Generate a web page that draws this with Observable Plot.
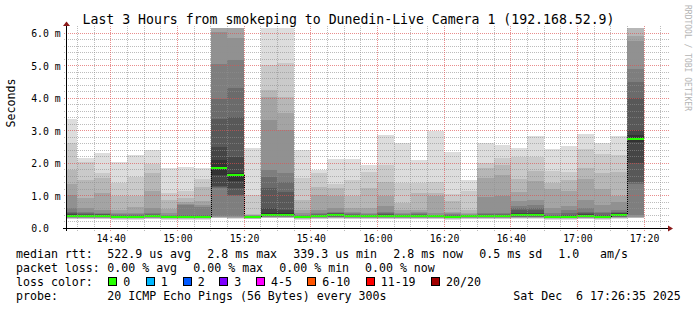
<!DOCTYPE html>
<html><head><meta charset="utf-8">
<script src="https://cdn.jsdelivr.net/npm/d3@7"></script>
<script src="https://cdn.jsdelivr.net/npm/@observablehq/plot@0.6"></script>
<style>
html,body{margin:0;padding:0;background:#fff;}
#chart{position:relative;width:697px;height:310px;overflow:hidden;background:#fff;}
#chart svg{display:block;}
</style></head>
<body><div id="chart"></div>
<script>
// ---------- data ----------
const chartDay = [2025, 11, 6];
const windowStart = "14:26:35";
const windowEnd = "17:26:35";
const firstStepStart = "14:25";
const stepMinutes = 5;

// 20 sorted ping RTTs (ms) per 5-minute step
const pingsMs = [
  [0.27,0.29,0.30,0.31,0.32,0.33,0.34,0.35,0.355,0.36, 0.39,0.42,0.45,0.50,0.62,1.03,1.35,1.77,2.60,3.34],
  [0.27,0.29,0.30,0.31,0.32,0.33,0.34,0.35,0.355,0.36, 0.39,0.40,0.42,0.45,0.50,0.60,0.91,1.48,2.04,2.16],
  [0.27,0.29,0.30,0.31,0.32,0.33,0.34,0.35,0.355,0.36, 0.39,0.40,0.42,0.44,0.47,0.55,1.09,1.53,1.70,2.30],
  [0.26,0.28,0.29,0.30,0.31,0.315,0.32,0.325,0.33,0.335, 0.355,0.37,0.38,0.40,0.43,0.47,0.55,0.97,1.38,2.02],
  [0.26,0.28,0.29,0.30,0.31,0.315,0.32,0.325,0.33,0.34, 0.36,0.37,0.38,0.40,0.42,0.45,0.66,0.97,1.58,2.24],
  [0.27,0.29,0.30,0.31,0.32,0.33,0.34,0.345,0.35,0.36, 0.38,0.39,0.40,0.42,0.45,0.60,1.14,1.70,1.97,2.40],
  [0.26,0.28,0.29,0.30,0.31,0.315,0.32,0.325,0.33,0.34, 0.35,0.36,0.37,0.38,0.40,0.45,0.57,0.86,1.07,1.85],
  [0.26,0.28,0.29,0.30,0.31,0.315,0.32,0.33,0.335,0.34, 0.36,0.37,0.38,0.40,0.70,0.73,0.80,0.93,1.14,1.88],
  [0.26,0.28,0.29,0.30,0.31,0.315,0.32,0.33,0.335,0.34, 0.36,0.37,0.38,0.40,0.66,0.70,0.83,1.27,1.50,1.84],
  [0.30,0.31,0.32,0.33,0.34,0.36,1.23,1.25,1.30,1.63, 2.09,2.50,3.35,3.97,5.05,6.02,6.25,6.35,6.50,6.80],
  [0.29,0.30,0.31,0.32,0.34,0.36,0.98,1.02,1.23,1.45, 1.69,2.19,3.42,4.30,5.17,5.84,6.25,6.35,6.50,6.60],
  [0.27,0.28,0.29,0.30,0.31,0.315,0.32,0.325,0.33,0.34, 0.36,0.365,0.37,0.375,0.38,0.39,0.40,0.42,1.00,2.47],
  [0.30,0.31,0.32,0.33,0.34,0.35,0.36,0.37,0.38,0.40, 0.47,0.60,1.22,1.58,1.78,3.32,4.04,4.25,5.01,6.60],
  [0.30,0.31,0.32,0.33,0.34,0.35,0.36,0.37,0.38,0.40, 0.47,0.55,1.12,1.40,1.69,3.00,3.53,4.04,5.07,6.50],
  [0.26,0.28,0.29,0.30,0.31,0.315,0.32,0.325,0.33,0.34, 0.355,0.36,0.37,0.38,0.40,0.45,0.55,0.86,1.53,2.40],
  [0.27,0.29,0.30,0.31,0.32,0.33,0.34,0.345,0.35,0.36, 0.38,0.39,0.40,0.42,0.45,0.55,1.02,1.27,1.68,1.78],
  [0.28,0.30,0.31,0.32,0.33,0.34,0.35,0.36,0.38,0.40, 0.42,0.44,0.45,0.47,0.50,0.60,0.99,1.24,1.35,2.13],
  [0.27,0.29,0.30,0.31,0.32,0.33,0.34,0.345,0.35,0.36, 0.38,0.39,0.40,0.42,0.45,0.50,0.60,0.99,1.48,2.13],
  [0.27,0.29,0.30,0.31,0.32,0.325,0.33,0.34,0.345,0.35, 0.37,0.38,0.39,0.40,0.42,0.45,0.60,1.22,1.73,1.94],
  [0.27,0.29,0.30,0.31,0.32,0.325,0.33,0.34,0.345,0.35, 0.38,0.40,0.42,0.45,0.50,0.68,0.99,1.40,1.94,2.86],
  [0.27,0.29,0.30,0.31,0.32,0.325,0.33,0.34,0.345,0.35, 0.37,0.38,0.39,0.40,0.42,0.45,0.55,0.77,1.37,2.60],
  [0.27,0.29,0.30,0.31,0.32,0.33,0.34,0.345,0.35,0.36, 0.38,0.39,0.40,0.42,0.45,0.48,0.55,1.08,1.37,2.09],
  [0.27,0.29,0.30,0.31,0.32,0.325,0.33,0.34,0.345,0.35, 0.36,0.37,0.38,0.39,0.40,0.45,0.99,1.08,1.40,2.97],
  [0.26,0.28,0.29,0.30,0.31,0.315,0.32,0.325,0.33,0.34, 0.36,0.37,0.38,0.40,0.42,0.45,0.50,0.82,1.05,2.35],
  [0.27,0.29,0.30,0.31,0.32,0.325,0.33,0.34,0.345,0.35, 0.37,0.38,0.39,0.40,0.41,0.43,0.47,0.55,1.15,1.48],
  [0.27,0.29,0.30,0.31,0.32,0.33,0.34,0.345,0.35,0.36, 0.38,0.39,0.40,0.42,0.45,0.94,1.54,1.86,2.00,2.60],
  [0.27,0.29,0.30,0.31,0.32,0.33,0.34,0.345,0.35,0.36, 0.38,0.39,0.41,0.43,0.47,0.98,1.63,1.94,2.14,2.55],
  [0.28,0.30,0.31,0.32,0.33,0.34,0.35,0.36,0.38,0.40, 0.44,0.47,0.55,0.60,0.68,0.82,1.11,1.51,2.19,2.45],
  [0.28,0.30,0.31,0.32,0.33,0.34,0.35,0.36,0.38,0.40, 0.44,0.47,0.55,0.62,0.70,0.86,1.45,1.76,2.19,2.83],
  [0.26,0.28,0.29,0.30,0.31,0.315,0.32,0.325,0.33,0.34, 0.36,0.37,0.38,0.40,0.45,0.63,1.20,1.39,1.75,2.42],
  [0.26,0.28,0.29,0.30,0.31,0.315,0.32,0.325,0.33,0.34, 0.36,0.38,0.40,0.45,0.55,0.68,1.15,1.48,1.73,2.52],
  [0.27,0.29,0.30,0.31,0.32,0.33,0.34,0.345,0.35,0.36, 0.39,0.42,0.45,0.50,0.63,0.86,1.51,1.83,2.42,2.89],
  [0.26,0.28,0.29,0.30,0.31,0.315,0.32,0.325,0.33,0.34, 0.36,0.38,0.40,0.45,0.50,0.70,1.20,1.68,2.28,2.60],
  [0.28,0.30,0.31,0.32,0.33,0.34,0.35,0.36,0.38,0.42, 0.44,0.45,0.47,0.50,0.55,0.80,0.98,1.73,2.25,2.83],
  [0.30,0.31,0.32,0.33,0.35,0.40,1.36,1.40,2.00,2.63, 2.85,3.00,4.00,4.48,4.89,5.75,5.91,6.30,6.50,6.80]
];

// median RTT (ms) per step
const medianMs = [0.375,0.375,0.375,0.345,0.35,0.37,0.345,0.35,0.35,1.86,1.63,0.345,0.42,0.42,0.35,0.37,0.41,0.37,0.37,0.37,0.37,0.37,0.37,0.36,0.37,0.37,0.37,0.41,0.41,0.35,0.35,0.38,0.35,0.42,2.74];

// packet loss (count of 20) per step
const lossCount = [0,0,0,0,0,0,0,0,0,0,0,0,0,0,0,0,0,0,0,0,0,0,0,0,0,0,0,0,0,0,0,0,0,0,0];

const lossLabels = ["0","1","2","3","4-5","6-10","11-19","20/20"];
const lossColors = ["#26ff00","#00b8ff","#0059ff","#7e00ff","#ff00ff","#ff5500","#ff0000","#a10000"];
const lossUpper = [0,1,2,3,5,10,19,20];

const xTickLabels = ["14:40","15:00","15:20","15:40","16:00","16:20","16:40","17:00","17:20"];
const yTickValues = [0,1,2,3,4,5,6];
const yTickLabels = ["0.0","1.0 m","2.0 m","3.0 m","4.0 m","5.0 m","6.0 m"];
const yMax = 6.15;

const titleText = "Last 3 Hours from smokeping to Dunedin-Live Camera 1 (192.168.52.9)";
const yLabelText = "Seconds";
const watermarkText = "RRDTOOL / TOBI OETIKER";
const rowMedian = ["median rtt:","522.9 us avg","2.8 ms max","339.3 us min","2.8 ms now","0.5 ms sd","1.0","am/s"];
const rowLoss = ["packet loss:","0.00 % avg","0.00 % max","0.00 % min","0.00 % now"];
const rowColorLabel = "loss color:";
const rowProbe = ["probe:","20 ICMP Echo Pings (56 Bytes) every 300s"];
const dateText = "Sat Dec  6 17:26:35 2025";

// ---------- layout ----------
const W = 697, H = 310;
const mL = 66, mR = 31, mT = 28, mB = 82;
const FONT = "'DejaVu Sans Mono', monospace";
const legendFont = 11.6;
const rowMedianX = [16,107.3,207.3,293.3,393.3,479.3,558.3,600];
const rowLossX = [16,107.3,193.3,279.3,365];
const swatchX = [108.3,145.7,182.7,219.3,256,307.3,365.7,431];
const rowY = [258.4, 272.3, 286.2, 300.1];

// ---------- build ----------
function at(hms) {
  const [h, m, s = 0] = hms.split(":").map(Number);
  return new Date(chartDay[0], chartDay[1], chartDay[2], h, m, s);
}
const winStart = at(windowStart), winEnd = at(windowEnd);
const t0 = at(firstStepStart);

const steps = pingsMs.map((p, i) => ({
  start: d3.timeMinute.offset(t0, i * stepMinutes),
  end: d3.timeMinute.offset(t0, (i + 1) * stepMinutes),
  p, median: medianMs[i],
  color: lossColors[lossUpper.findIndex(u => lossCount[i] <= u)]
}));

const smoke = [];
for (const s of steps) {
  const n = s.p.length, half = n / 2;
  for (let k = 1; k <= half; k++) {
    const g = Math.floor(190 / half * (half - k)) + 50;
    smoke.push({start: s.start, end: s.end, lo: s.p[k - 1], hi: s.p[n - k], fill: `rgb(${g},${g},${g})`});
  }
}
const transitions = steps.slice(1).map((s, i) => ({t: s.start, a: steps[i].median, b: s.median}));

const majorTimes = xTickLabels.map(d => at(d));
const minorTimes = d3.timeMinute.every(5).range(winStart, winEnd).filter(t => !majorTimes.some(m => +m === +t));
const minorY = d3.range(1, 31).filter(i => i % 5 !== 0).map(i => i / 5);
const majorY = yTickValues.filter(v => v > 0);

const plot = Plot.plot({
  width: W, height: H,
  marginLeft: mL, marginRight: mR, marginTop: mT, marginBottom: mB,
  x: {type: "time", domain: [winStart, winEnd], axis: null},
  y: {domain: [0, yMax], axis: null},
  color: {type: "identity"},
  style: {background: "#fff", fontFamily: FONT, fontSize: "10px", overflow: "visible", color: "#000"},
  marks: [
    Plot.rect(smoke, {x1: "start", x2: "end", y1: "lo", y2: "hi", fill: "fill", clip: true, shapeRendering: "crispEdges"}),
    Plot.ruleX(transitions, {x: "t", y1: "a", y2: "b", stroke: "#000", strokeDasharray: "1,1", shapeRendering: "crispEdges", ariaLabel: "median-steps"}),
    Plot.ruleY(steps, {y: "median", x1: "start", x2: "end", stroke: "color", strokeWidth: 2, clip: true, shapeRendering: "crispEdges"}),
    Plot.text(xTickLabels, {x: d => at(d), y: 0, text: d => d, dy: 10.3, fontSize: 9.8, lineAnchor: "middle", fill: "#000"}),
    Plot.text(yTickValues, {x: winStart, y: d => d, text: (d, i) => yTickLabels[i], textAnchor: "start", dx: 30.7 - mL, dy: 0.6, fontSize: 9.8, lineAnchor: "middle", fill: "#000"}),
    Plot.text([yLabelText], {frameAnchor: "left", text: d => d, rotate: -90, dx: 11 - mL, dy: -1, fontSize: 11.6, fill: "#000"})
  ]
});
document.getElementById("chart").appendChild(plot);

// grid (pixel-snapped dotted lines via patterns, positioned by the plot's scales)
const X = plot.scale("x"), Y = plot.scale("y");
const svg = d3.select(plot);
const px0 = Math.round(X.apply(winStart)), px1 = Math.round(X.apply(winEnd));
const py0 = Math.round(Y.apply(0)), pyTop = Math.round(Y.apply(yMax));
const ax0 = px0 + 0.5, ay0 = py0 + 0.5;

const defs = svg.append("defs");
const gridStyle = {minor: {color: "#8f8f8f", opacity: 0.6}, major: {color: "#de5050", opacity: 0.65}};
for (const [name, st] of Object.entries(gridStyle)) {
  const pv = defs.append("pattern").attr("id", "v-" + name).attr("patternUnits", "userSpaceOnUse")
    .attr("x", 0).attr("y", 0).attr("width", 1).attr("height", 2);
  pv.append("rect").attr("x", 0).attr("y", 0).attr("width", 1).attr("height", 1)
    .attr("fill", st.color).attr("fill-opacity", st.opacity);
  const ph = defs.append("pattern").attr("id", "h-" + name).attr("patternUnits", "userSpaceOnUse")
    .attr("x", 0).attr("y", 0).attr("width", 2).attr("height", 1);
  ph.append("rect").attr("x", 0).attr("y", 0).attr("width", 1).attr("height", 1)
    .attr("fill", st.color).attr("fill-opacity", st.opacity);
}
const gridG = svg.insert("g", "g[aria-label='median-steps']").attr("shape-rendering", "crispEdges");
function vline(t, name) {
  const x = Math.floor(X.apply(t));
  gridG.append("rect").attr("x", x).attr("y", pyTop - 2).attr("width", 1).attr("height", py0 + 3 - (pyTop - 2))
    .attr("fill", `url(#v-${name})`);
}
function hline(v, name) {
  const y = Math.round(Y.apply(v));
  gridG.append("rect").attr("x", px0 - 2).attr("y", y).attr("width", px1 + 3 - (px0 - 2)).attr("height", 1)
    .attr("fill", `url(#h-${name})`);
}
minorTimes.forEach(t => vline(t, "minor"));
minorY.forEach(v => hline(v, "minor"));
majorTimes.forEach(t => vline(t, "major"));
majorY.forEach(v => hline(v, "major"));

// axes and arrows
const arrowColor = "#8b1a1a";
svg.append("line").attr("x1", px0 - 3).attr("x2", px1 + 3).attr("y1", ay0).attr("y2", ay0).attr("stroke", "#000");
svg.append("line").attr("x1", ax0).attr("x2", ax0).attr("y1", py0 + 3).attr("y2", pyTop - 3).attr("stroke", "#000");
svg.append("path").attr("d", `M${px1 + 2},${ay0 - 3}L${px1 + 7},${ay0}L${px1 + 2},${ay0 + 3}Z`).attr("fill", arrowColor);
svg.append("path").attr("d", `M${ax0 - 3.5},${pyTop - 2}L${ax0},${pyTop - 6.5}L${ax0 + 3.5},${pyTop - 2}Z`).attr("fill", arrowColor);

// title, legend, watermark
const txt = (x, y, s, size, anchor = "start") => svg.append("text")
  .attr("x", x).attr("y", y).attr("font-family", FONT).attr("font-size", size)
  .attr("text-anchor", anchor).attr("fill", "#000").attr("xml:space", "preserve")
  .style("white-space", "pre").text(s);

txt(W / 2, 24, titleText, 13.2, "middle");

rowMedian.forEach((s, i) => txt(rowMedianX[i], rowY[0], s, legendFont));
rowLoss.forEach((s, i) => txt(rowLossX[i], rowY[1], s, legendFont));
txt(16, rowY[2], rowColorLabel, legendFont);
lossLabels.forEach((s, i) => {
  svg.append("rect").attr("x", Math.round(swatchX[i]) + 0.5).attr("y", 277.5).attr("width", 8).attr("height", 8)
    .attr("fill", lossColors[i]).attr("stroke", "#000").attr("stroke-width", 1);
  txt(swatchX[i] + 15, rowY[2], s, legendFont);
});
txt(rowMedianX[0], rowY[3], rowProbe[0], legendFont);
txt(rowMedianX[1], rowY[3], rowProbe[1], legendFont);
txt(680.8, rowY[3], dateText, legendFont, "end");

svg.append("text").attr("transform", "translate(685,5) rotate(90)")
  .attr("font-family", FONT).attr("font-size", 8).attr("fill", "#b4b4b4")
  .attr("text-anchor", "start")
  .text(watermarkText);
</script>
</body></html>
